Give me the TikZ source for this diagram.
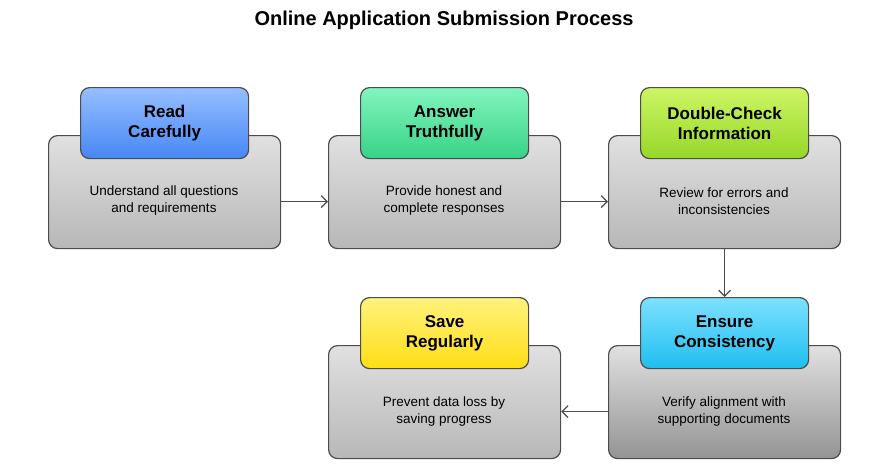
\documentclass[tikz,border=0pt]{standalone}
\usepackage{fontspec}
\setmainfont{Liberation Sans}
\usetikzlibrary{arrows.meta,calc}
\begin{document}
\begin{tikzpicture}[x=1pt,y=-1pt,
 box/.style={draw=black!70,line width=1.2pt,rounded corners=9pt,top color=black!12,bottom color=black!28,minimum width=232pt,minimum height=113pt,anchor=north west,inner sep=0pt},
 head/.style={draw=black!70,line width=1.2pt,rounded corners=9pt,minimum width=168pt,minimum height=71pt,anchor=north west,align=center,font=\bfseries\fontsize{17}{20}\selectfont,inner sep=0pt},
 body/.style={align=center,font=\fontsize{13.5}{17}\selectfont},
 arr/.style={-{Straight Barb[length=6pt,width=12pt]},draw=black!70,line width=1.2pt}]
\useasboundingbox (0,0) rectangle (888,475);
\node[font=\bfseries\fontsize{20}{24}\selectfont] (title) at (444,20) {Online Application Submission Process};
\node[box] (b1) at (48,135) {};
\node[box] (b2) at (328,135) {};
\node[box] (b3) at (608,135) {};
\node[box,bottom color=black!42] (b5) at (608,345) {};
\node[box] (b4) at (328,345) {};
\node[head,top color={rgb,255:red,150;green,190;blue,255},bottom color={rgb,255:red,70;green,135;blue,245}] (h1) at (80,87) {Read\\Carefully};
\node[head,top color={rgb,255:red,130;green,245;blue,190},bottom color={rgb,255:red,55;green,210;blue,135}] (h2) at (360,87) {Answer\\Truthfully};
\node[head,top color={rgb,255:red,205;green,245;blue,100},bottom color={rgb,255:red,150;green,215;blue,40}] (h3) at (640,87) {Double-Check\\Information};
\node[head,top color={rgb,255:red,125;green,225;blue,255},bottom color={rgb,255:red,30;green,190;blue,240}] (h5) at (640,297) {Ensure\\Consistency};
\node[head,top color={rgb,255:red,255;green,242;blue,125},bottom color={rgb,255:red,255;green,222;blue,20}] (h4) at (360,297) {Save\\Regularly};
\node[body] (t1) at (164,201) {Understand all questions\\and requirements};
\node[body] (t2) at (444,201) {Provide honest and\\complete responses};
\node[body] (t3) at (724,201) {Review for errors and\\inconsistencies};
\node[body] (t5) at (724,411) {Verify alignment with\\supporting documents};
\node[body] (t4) at (444,411) {Prevent data loss by\\saving progress};
\draw[arr] ($(b1.east)+(0,9.5)$) -- ($(b2.west)+(0,9.5)$);
\draw[arr] ($(b2.east)+(0,9.5)$) -- ($(b3.west)+(0,9.5)$);
\draw[arr] (b3.south) -- (h5.north);
\draw[arr] ($(b5.west)+(0,9.5)$) -- ($(b4.east)+(0,9.5)$);
\end{tikzpicture}
\end{document}
